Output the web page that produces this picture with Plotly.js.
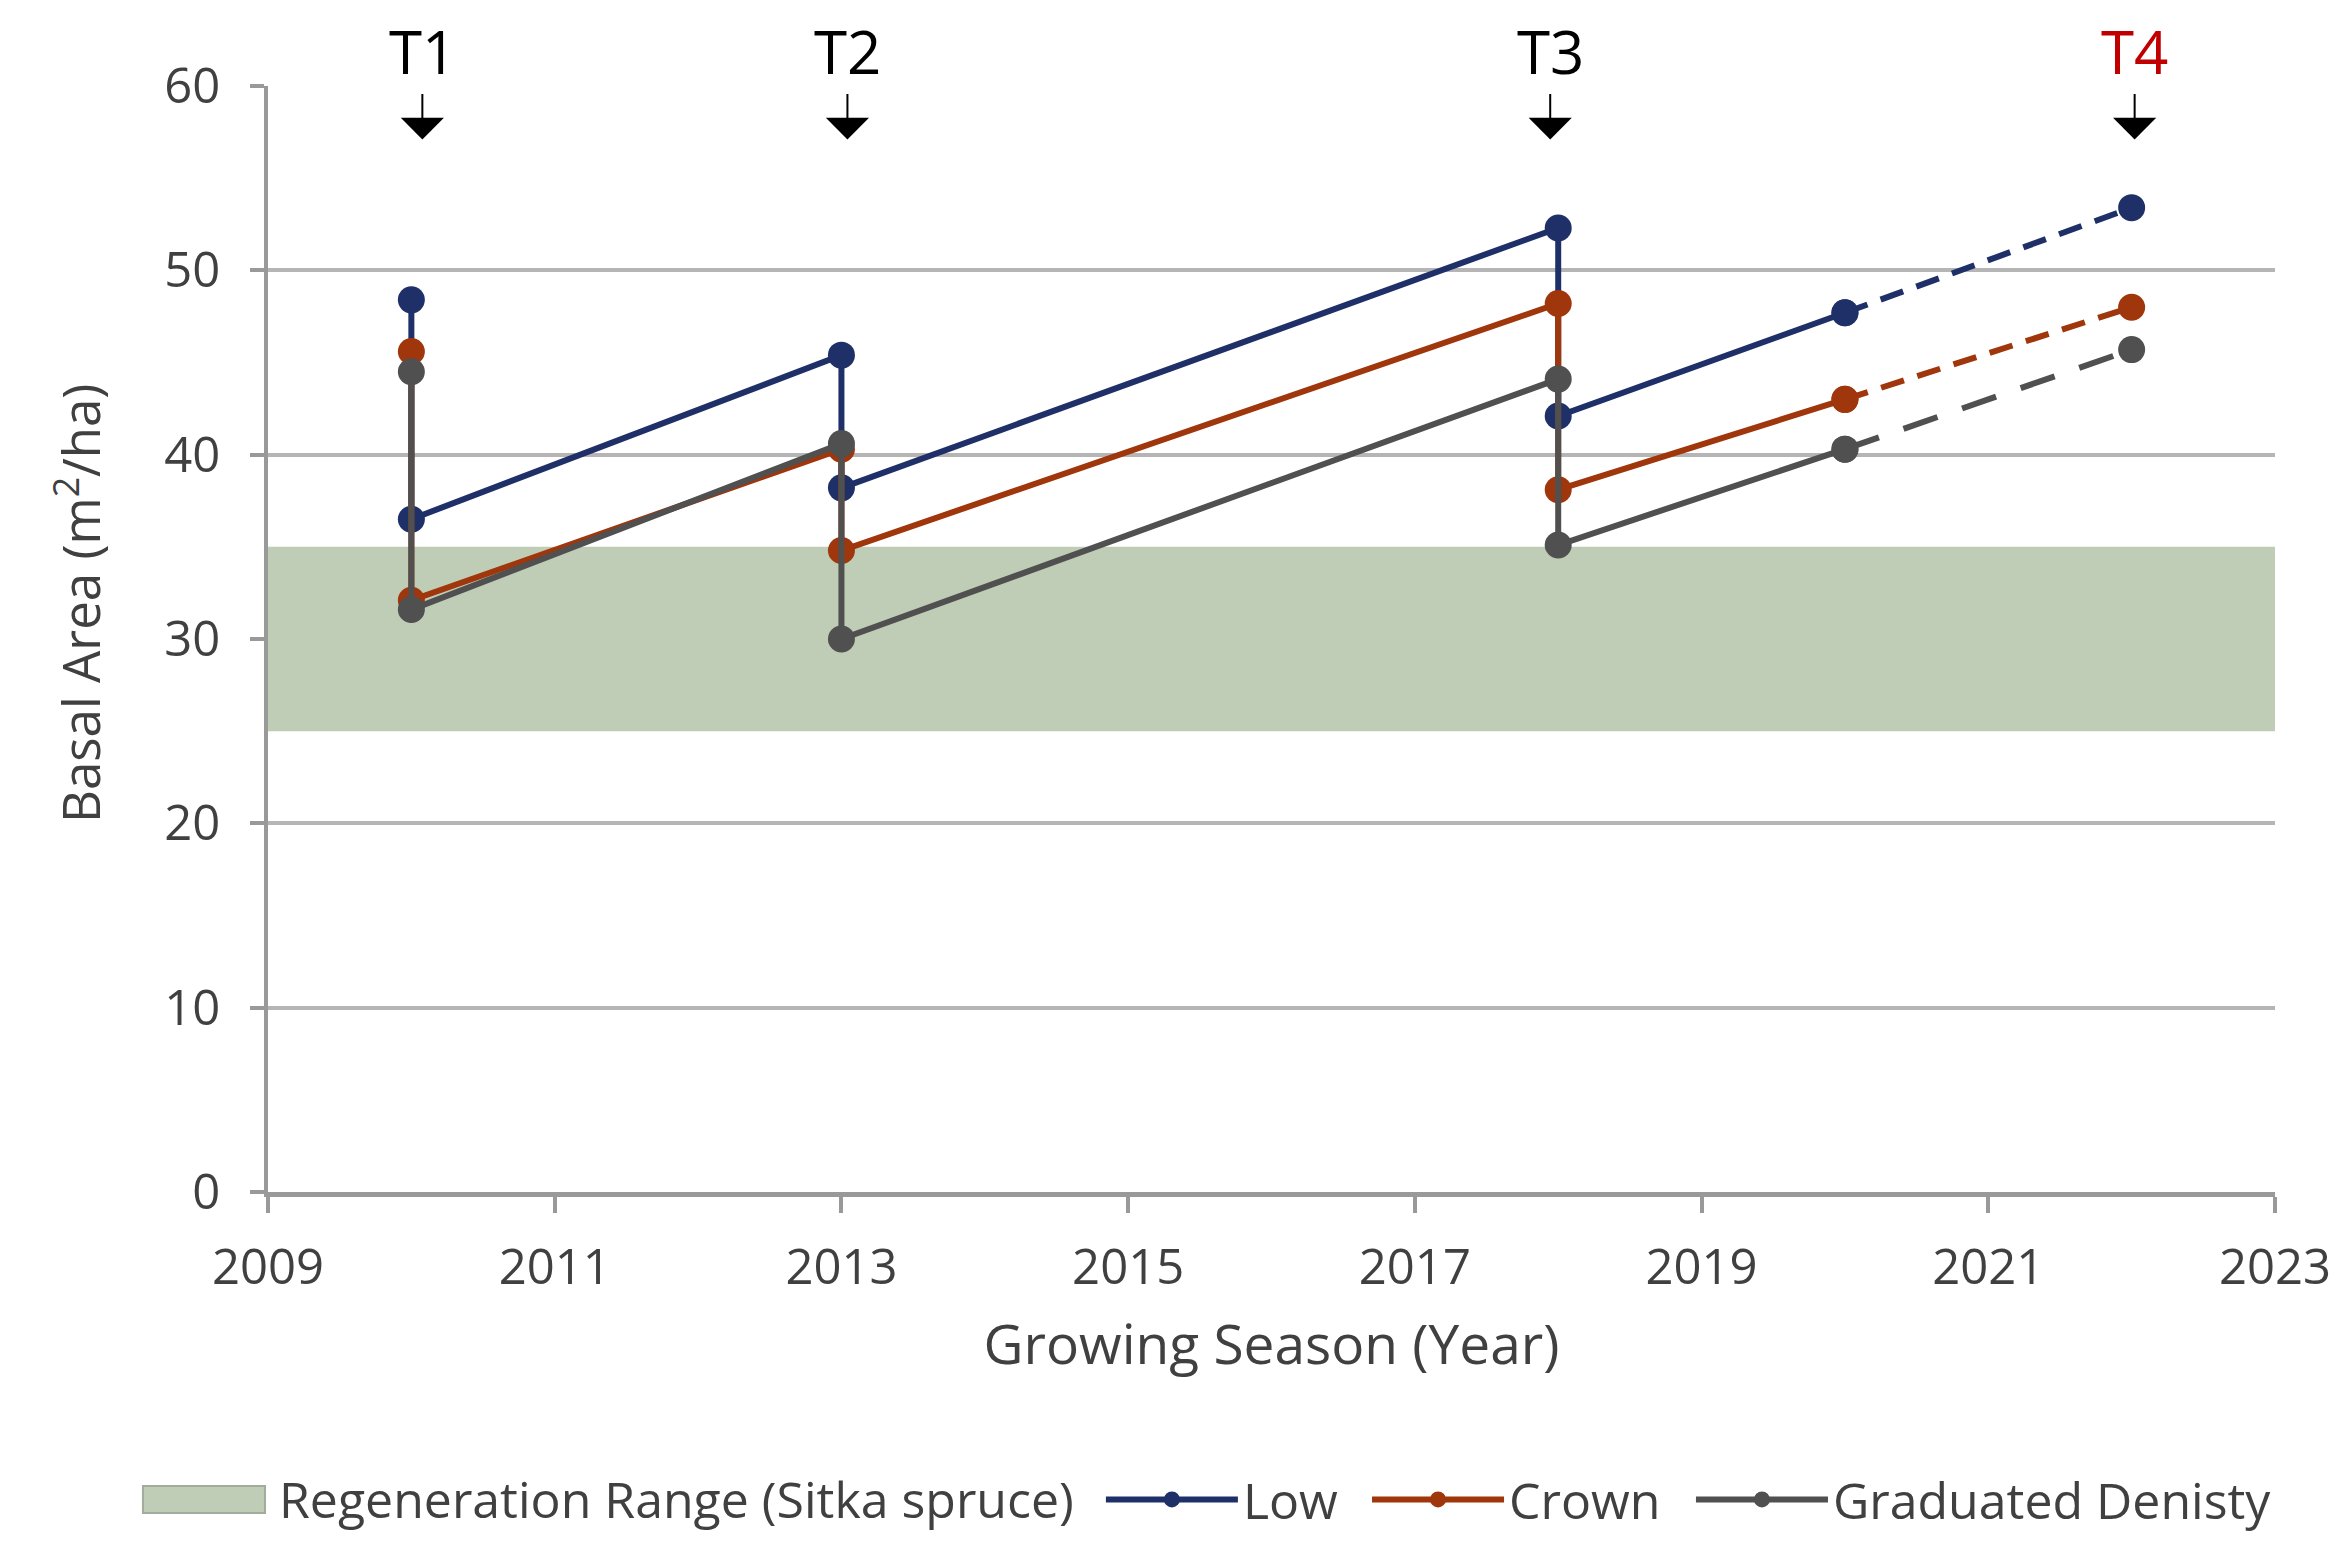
<!DOCTYPE html>
<html>
<head>
<meta charset="utf-8">
<script src="https://cdn.plot.ly/plotly-3.0.1.min.js"></script>
<style>
  html, body { margin: 0; padding: 0; background: #ffffff; }
  #chart { width: 2336px; height: 1545px; }
</style>
</head>
<body>
<div id="chart"></div>
<script>
// ---- Data ----
const measuredYears = [2010, 2010, 2013, 2013, 2018, 2018, 2020];
const projectedYears = [2020, 2022];

const lowMeasured = [48.4, 36.5, 45.4, 38.2, 52.3, 42.1, 47.7];
const lowProjected = [47.7, 53.4];

const crownMeasured = [45.6, 32.1, 40.3, 34.8, 48.2, 38.1, 43.0];
const crownProjected = [43.0, 48.0];

const gradMeasured = [44.5, 31.6, 40.6, 30.0, 44.1, 35.1, 40.3];
const gradProjected = [40.3, 45.7];

const regenRange = [25, 35];
const xRange = [2009, 2023];
const yRange = [0, 60];

const thinLabels = ['T1', 'T2', 'T3', 'T4'];
const thinYears = [2010, 2013, 2018, 2022];

const seriesNames = ['Low', 'Crown', 'Graduated Denisty'];
const regenName = 'Regeneration Range (Sitka spruce)';

// ---- Styles ----
const colors = { Low: '#1f3068', Crown: '#a0360b', 'Graduated Denisty': '#505050' };
const dashes = { Low: '24px,14px', Crown: '24px,14px', 'Graduated Denisty': '36px,26px' };
const legendIds = { Low: 'legend2', Crown: 'legend3', 'Graduated Denisty': 'legend4' };
const FONT = 'Open Sans, Noto Sans, Liberation Sans, sans-serif';
const TXT = '#404040';
const BAND = '#c0cdb6';
const LEG_Y = -0.278;

const traces = [];
traces.push({
  x: [xRange[0], xRange[1], xRange[1], xRange[0], xRange[0]],
  y: [regenRange[0], regenRange[0], regenRange[1], regenRange[1], regenRange[0]],
  type: 'scatter', mode: 'none', fill: 'toself',
  fillcolor: BAND, name: regenName, hoverinfo: 'skip', showlegend: false
});

const seriesData = {
  'Low': [lowMeasured, lowProjected],
  'Crown': [crownMeasured, crownProjected],
  'Graduated Denisty': [gradMeasured, gradProjected]
};

seriesNames.forEach(function (n) {
  traces.push({
    x: measuredYears, y: seriesData[n][0], type: 'scatter', mode: 'lines+markers',
    name: n, legendgroup: n, legend: legendIds[n],
    line: { color: colors[n], width: 6 },
    marker: { color: colors[n], size: 27 }
  });
  traces.push({
    x: projectedYears, y: seriesData[n][1], type: 'scatter', mode: 'lines+markers',
    name: n, legendgroup: n, showlegend: false, legend: legendIds[n],
    line: { color: colors[n], width: 6, dash: dashes[n] },
    marker: { color: colors[n], size: 27 }
  });
});

// thinning annotations: label above the plot with an arrow pointing down
const xShiftPx = [11, 6, -8, 3];
const labelColors = ['#000000', '#000000', '#000000', '#c00000'];
const annotations = [];
thinLabels.forEach(function (t, i) {
  annotations.push({
    x: thinYears[i], xref: 'x', y: 57.1, yref: 'y',
    ax: 0, ay: -88, xshift: xShiftPx[i],
    text: t, showarrow: true, arrowhead: 1, arrowwidth: 2, arrowsize: 3.6,
    arrowcolor: '#000000', standoff: 0, startstandoff: 0,
    font: { family: FONT, size: 60, color: labelColors[i] }
  });
});

// y axis title as rotated text
annotations.push({
  x: -0.0947, xref: 'paper', y: 0.5325, yref: 'paper',
  text: 'Basal Area (m<sup>2</sup>/ha)', showarrow: false, textangle: -90,
  font: { family: FONT, size: 51, color: TXT },
  xanchor: 'center', yanchor: 'middle'
});

// legend entry for the regeneration band (swatch drawn as a shape)
annotations.push({
  x: 0.0045, xref: 'paper', y: LEG_Y, yref: 'paper',
  text: regenName, showarrow: false, xanchor: 'left', yanchor: 'middle',
  font: { family: FONT, size: 50, color: TXT }
});
const shapes = [{
  type: 'rect', xref: 'paper', yref: 'paper',
  x0: -0.0623, x1: -0.0015, y0: LEG_Y - 0.0122, y1: LEG_Y + 0.0122,
  fillcolor: BAND, line: { color: '#a3ab9f', width: 2 }
}];

function legendAt(xp) {
  return {
    orientation: 'h', x: xp, xanchor: 'left', y: LEG_Y, yanchor: 'middle',
    font: { family: FONT, size: 50, color: TXT },
    itemwidth: 132, bgcolor: 'rgba(0,0,0,0)', borderwidth: 0
  };
}

const layout = {
  width: 2336, height: 1545,
  margin: { l: 268, r: 61, t: 86, b: 353, autoexpand: false },
  paper_bgcolor: '#ffffff', plot_bgcolor: '#ffffff',
  showlegend: true,
  legend2: legendAt(0.4150),
  legend3: legendAt(0.5476),
  legend4: legendAt(0.7090),
  xaxis: {
    range: xRange, tick0: 2009, dtick: 2, showgrid: false, zeroline: false,
    showline: true, linecolor: '#999999', linewidth: 5,
    ticks: 'outside', ticklen: 16, tickwidth: 4, tickcolor: '#999999',
    tickfont: { family: FONT, size: 49, color: TXT },
    ticklabelstandoff: 12,
    title: { text: 'Growing Season (Year)', font: { family: FONT, size: 55, color: TXT }, standoff: 30 }
  },
  yaxis: {
    range: yRange, dtick: 10, showgrid: true, gridcolor: '#b5b5b5', gridwidth: 4,
    zeroline: false, showline: true, linecolor: '#999999', linewidth: 4,
    ticks: 'outside', ticklen: 14, tickwidth: 4, tickcolor: '#999999',
    tickfont: { family: FONT, size: 49, color: TXT },
    ticklabelstandoff: 20
  },
  shapes: shapes,
  annotations: annotations
};

Plotly.newPlot('chart', traces, layout, { staticPlot: true });
</script>
</body>
</html>
